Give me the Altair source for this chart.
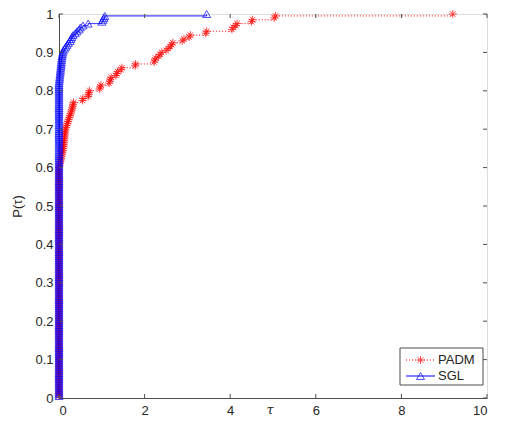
import altair as alt
import pandas as pd

# performance ratios (tau) per test problem (200 problems)
padm_tau = ([0.0] * 120 +
            [0.01, 0.02, 0.03, 0.04, 0.05, 0.06, 0.07, 0.08, 0.09, 0.1,
             0.105, 0.11, 0.115, 0.12, 0.125, 0.13, 0.135, 0.14, 0.145, 0.15] +
            [0.165, 0.18, 0.195, 0.21, 0.225, 0.24, 0.255, 0.27, 0.285, 0.3,
             0.31, 0.32, 0.33, 0.34] +
            [0.55, 0.56, 0.68, 0.69, 0.7, 0.71,
             0.95, 0.96, 0.98,
             1.17, 1.19, 1.2, 1.22,
             1.33, 1.35, 1.37,
             1.45, 1.47,
             1.78, 1.79,
             2.22, 2.24, 2.26,
             2.33, 2.36, 2.4,
             2.5, 2.55, 2.6, 2.63, 2.66,
             2.88, 2.92,
             3.04, 3.07,
             3.43, 3.45,
             4.04, 4.07, 4.13, 4.16,
             4.5, 4.52,
             5.03, 5.06,
             9.2])

sgl_tau = ([0.0] * 164 +
           [0.005, 0.01, 0.015, 0.02, 0.025, 0.03, 0.035, 0.04, 0.045, 0.05,
            0.055, 0.06, 0.065, 0.07, 0.08, 0.09] +
           [0.1, 0.13, 0.16, 0.19, 0.22, 0.26, 0.28, 0.3, 0.33, 0.38,
            0.42, 0.47, 0.5, 0.56, 0.68,
            1.0, 1.03, 1.05, 1.07,
            3.45])

solvers = ["PADM", "SGL"]
colors = ["#FF0000", "#0000FF"]
x_ticks = [0, 2, 4, 6, 8, 10]
y_ticks = [0, 0.1, 0.2, 0.3, 0.4, 0.5, 0.6, 0.7, 0.8, 0.9, 1.0]

W, H = 428, 384
FONT = "Liberation Sans"
ASTERISK = "M-1,0L1,0M0,-1L0,1M-0.7,-0.7L0.7,0.7M-0.7,0.7L0.7,-0.7"

df = pd.concat([
    pd.DataFrame({"tau": padm_tau, "solver": "PADM"}),
    pd.DataFrame({"tau": sgl_tau, "solver": "SGL"}),
], ignore_index=True)

color_scale = alt.Scale(domain=solvers, range=colors)
xs = alt.Scale(domain=[0, 10], nice=False)
ys = alt.Scale(domain=[0, 1], nice=False)

X_AX = alt.Axis(values=x_ticks, ticks=False, grid=False, title=None,
                labelFont=FONT, labelFontSize=13, labelColor="#262626",
                domainColor="#4d4d4d", labelPadding=6, format="d",
                labelOverlap=False)
Y_AX = alt.Axis(values=y_ticks, ticks=False, grid=False, title="P(τ)",
                labelFont=FONT, labelFontSize=13, labelColor="#262626",
                domainColor="#4d4d4d", labelPadding=6, format="~g",
                labelOverlap=False,
                titleFont=FONT, titleFontSize=13, titleFontWeight="normal",
                titleColor="#262626", titlePadding=10)

base = alt.Chart(df).transform_window(
    rank="row_number()", sort=[alt.SortField("tau")], groupby=["solver"]
).transform_joinaggregate(
    n="count()", groupby=["solver"]
).transform_calculate(
    P="datum.rank / datum.n"
)

lines = base.mark_line(interpolate="step-after", strokeWidth=1).encode(
    x=alt.X("tau:Q", scale=xs, axis=X_AX),
    y=alt.Y("P:Q", scale=ys, axis=Y_AX),
    color=alt.Color("solver:N", scale=color_scale, legend=None),
    strokeDash=alt.StrokeDash("solver:N",
                              scale=alt.Scale(domain=solvers, range=[[1, 2], [1, 0]]),
                              legend=None),
    order=alt.Order("rank:Q"),
)

points = base.mark_point(filled=False, strokeWidth=1, size=64, clip=False).encode(
    x=alt.X("tau:Q", scale=xs, axis=X_AX),
    y=alt.Y("P:Q", scale=ys, axis=Y_AX),
    color=alt.Color("solver:N", scale=color_scale, legend=None),
    shape=alt.Shape("solver:N",
                    scale=alt.Scale(domain=solvers, range=[ASTERISK, "triangle-up"]),
                    legend=None),
)

# inward tick marks on the four sides of the box
xt = alt.Chart(pd.DataFrame({"t": x_ticks}))
yt = alt.Chart(pd.DataFrame({"t": y_ticks}))
tick_col = "#4d4d4d"
ticks = alt.layer(
    xt.mark_rule(color=tick_col).encode(x=alt.X("t:Q", scale=xs, axis=X_AX), y=alt.value(H), y2=alt.value(H - 4)),
    xt.mark_rule(color=tick_col).encode(x=alt.X("t:Q", scale=xs, axis=X_AX), y=alt.value(0), y2=alt.value(4)),
    yt.mark_rule(color=tick_col).encode(y=alt.Y("t:Q", scale=ys, axis=Y_AX), x=alt.value(0), x2=alt.value(4)),
    yt.mark_rule(color=tick_col).encode(y=alt.Y("t:Q", scale=ys, axis=Y_AX), x=alt.value(W), x2=alt.value(W - 4)),
)

xlabel = alt.Chart(pd.DataFrame({"t": ["τ"]})).mark_text(
    font="DejaVu Serif", fontStyle="italic", fontSize=13, color="#262626"
).encode(text="t:N", x=alt.value(211), y=alt.value(H + 12))

# legend box
lx0, lx1, ly0, ly1 = 341, 424, 334, 371
leg_box = alt.Chart(pd.DataFrame({"a": [1]})).mark_rect(
    fill="white", stroke="#4d4d4d", strokeWidth=1
).encode(x=alt.value(lx0), x2=alt.value(lx1), y=alt.value(ly0), y2=alt.value(ly1))

leg_layers = []
for i, (s, c) in enumerate(zip(solvers, colors)):
    yy = 346 + i * 16
    d = alt.Chart(pd.DataFrame({"solver": [s]}))
    leg_layers.append(d.mark_rule(color=c, strokeWidth=1,
                                  strokeDash=[1, 2] if i == 0 else [1, 0]).encode(
        x=alt.value(347), x2=alt.value(376), y=alt.value(yy)))
    leg_layers.append(d.mark_point(filled=False, strokeWidth=1, size=64, color=c,
                                   shape=ASTERISK if i == 0 else "triangle-up").encode(
        x=alt.value(361.5), y=alt.value(yy)))
    leg_layers.append(d.mark_text(align="left", baseline="middle", font=FONT,
                                  fontSize=13, color="#262626").encode(
        text="solver:N", x=alt.value(379), y=alt.value(yy)))

chart = alt.layer(lines, points, ticks, xlabel, leg_box, *leg_layers).properties(
    width=W, height=H,
    autosize=alt.AutoSizeParams(type="none"),
    padding={"left": 51, "top": 6, "right": 20, "bottom": 20},
).configure_view(stroke="#4d4d4d", strokeWidth=1).configure_axis(
    labelOverlap=False
).configure(background="white")

chart.save("out.html", embed_options={"renderer": "svg", "actions": False})
